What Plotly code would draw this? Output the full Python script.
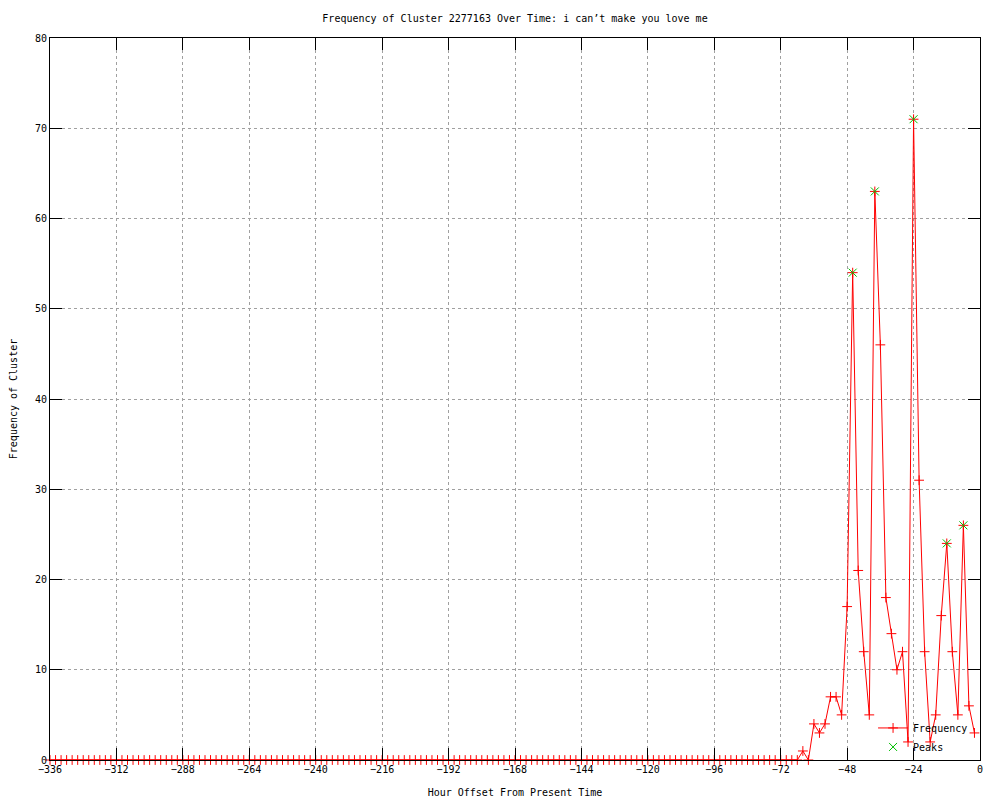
import plotly.graph_objects as go

# Hour offsets: every 2 hours from -336 to -2
hours = list(range(-336, 0, 2))

# Frequency values for the active window (-64 .. -2); everything earlier is 0
active_hours = list(range(-64, 0, 2))
active_vals = [1, 0, 4, 3, 4, 7, 7, 5, 17, 54, 21, 12, 5, 63, 46, 18,
               14, 10, 12, 2, 71, 31, 12, 2, 5, 16, 24, 12, 5, 26, 6, 3]
freq_lookup = dict(zip(active_hours, active_vals))
frequency = [freq_lookup.get(h, 0) for h in hours]

peak_hours = [-46, -38, -24, -12, -6]
peak_vals = [54, 63, 71, 24, 26]

x_ticks = list(range(-336, 1, 24))
y_ticks = list(range(0, 81, 10))

title_text = "Frequency of Cluster 2277163 Over Time: i can\u2019t make you love me"
mono = "DejaVu Sans Mono"

W, H = 992, 792  # page body has an 8px margin

fig = go.Figure()
fig.add_trace(go.Scatter(
    x=hours, y=frequency, mode="lines+markers", name="Frequency",
    line=dict(color="#ff0000", width=1),
    marker=dict(symbol="cross-thin", size=7, line=dict(color="#ff0000", width=1)),
    cliponaxis=False,
))
fig.add_trace(go.Scatter(
    x=peak_hours, y=peak_vals, mode="markers", name="Peaks",
    marker=dict(symbol="x-thin", size=8, line=dict(color="#00c000", width=1)),
    cliponaxis=False,
))

fig.update_layout(
    width=W, height=H,
    margin=dict(l=42, r=20, t=30, b=40),
    paper_bgcolor="white", plot_bgcolor="white",
    font=dict(family=mono, size=10, color="black"),
    title=dict(text=title_text, x=507 / W, xanchor="center", y=1 - 10 / H,
               yanchor="middle", font=dict(family=mono, size=10, color="black")),
    showlegend=True,
    legend=dict(x=0.885, y=-0.002, xanchor="left", yanchor="bottom",
                bgcolor="rgba(0,0,0,0)", font=dict(family=mono, size=10),
                tracegroupgap=0, itemwidth=30),
)
fig.update_xaxes(
    range=[-336, 0], tickvals=x_ticks, ticks="inside", ticklen=12, tickcolor="black",
    showline=True, linecolor="black", linewidth=1, mirror="ticks",
    showgrid=True, gridcolor="#a0a0a0", griddash="dot", gridwidth=1, zeroline=False,
    automargin=False,
    title=dict(text="Hour Offset From Present Time", standoff=14,
               font=dict(family=mono, size=10)),
    tickfont=dict(family=mono, size=10),
)
fig.update_yaxes(
    range=[0, 80], tickvals=y_ticks, ticks="inside", ticklen=12, tickcolor="black",
    showline=True, linecolor="black", linewidth=1, mirror="ticks",
    showgrid=True, gridcolor="#a0a0a0", griddash="dot", gridwidth=1, zeroline=False,
    automargin=False,
    title=dict(text="Frequency of Cluster", standoff=15,
               font=dict(family=mono, size=10)),
    tickfont=dict(family=mono, size=10),
)

fig.write_html("out.html")
